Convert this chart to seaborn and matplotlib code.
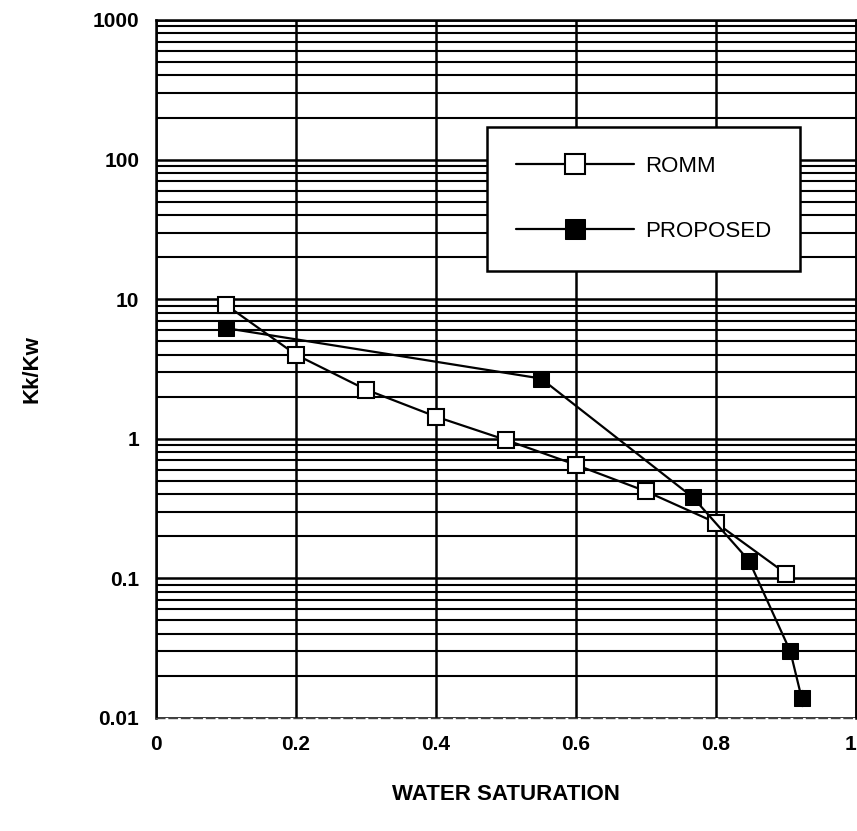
import numpy as np
import pandas as pd
import seaborn as sns
import matplotlib.pyplot as plt
from matplotlib.ticker import FixedLocator, LogLocator, NullFormatter

# values
romm_sw = [0.1, 0.2, 0.3, 0.4, 0.5, 0.6, 0.7, 0.8, 0.9]
romm_k = [9.1, 4.0, 2.25, 1.44, 0.98, 0.65, 0.42, 0.25, 0.108]
prop_sw = [0.1, 0.55, 0.767, 0.847, 0.906, 0.922, 0.922]
prop_k = [6.2, 2.7, 0.38, 0.134, 0.030, 0.016, 0.012]
xticks = [0, 0.2, 0.4, 0.6, 0.8, 1]
xticklabels = ["0", "0.2", "0.4", "0.6", "0.8", "1"]
yticks = [0.01, 0.1, 1, 10, 100, 1000]
yticklabels = ["0.01", "0.1", "1", "10", "100", "1000"]

df_romm = pd.DataFrame({"sw": romm_sw, "k": romm_k})
df_prop = pd.DataFrame({"sw": prop_sw, "k": prop_k})

sns.set_style("white")
plt.rcParams['font.family'] = ['Liberation Sans', 'DejaVu Sans']
plt.rcParams['text.color'] = 'black'
plt.rcParams['axes.labelcolor'] = 'black'
plt.rcParams['xtick.color'] = 'black'
plt.rcParams['ytick.color'] = 'black'

fig = plt.figure(figsize=(8.57, 8.31), dpi=100)
ax = fig.add_axes([0.182, 0.136, 0.817, 0.840])

sns.lineplot(data=df_romm, x="sw", y="k", ax=ax, color="black", lw=1.6,
             marker="s", markersize=11.5, markerfacecolor="white",
             markeredgecolor="black", markeredgewidth=1.5, label="ROMM", sort=False)
sns.lineplot(data=df_prop, x="sw", y="k", ax=ax, color="black", lw=1.6,
             marker="s", markersize=11, markerfacecolor="black",
             markeredgecolor="black", label="PROPOSED", sort=False)

ax.set_yscale("log")
ax.set_xlim(0, 1)
ax.set_ylim(0.01, 1000)
ax.xaxis.set_major_locator(FixedLocator(xticks))
ax.set_xticklabels(xticklabels)
ax.yaxis.set_major_locator(FixedLocator(yticks))
ax.set_yticklabels(yticklabels)
ax.yaxis.set_minor_locator(LogLocator(base=10, subs=np.arange(2, 10)))
ax.yaxis.set_minor_formatter(NullFormatter())

ax.grid(True, which="major", axis="both", color="black", lw=1.8)
ax.grid(True, which="minor", axis="y", color="black", lw=1.5)
ax.set_axisbelow(True)

for s in ["left", "top", "right"]:
    ax.spines[s].set_color("black")
    ax.spines[s].set_linewidth(1.8)
ax.spines["bottom"].set_color("#444444")
ax.spines["bottom"].set_linewidth(1.0)
ax.spines["bottom"].set_linestyle((0, (6, 3)))

ax.tick_params(axis="both", which="major", length=0, labelsize=15, pad=12)
ax.tick_params(axis="both", which="minor", length=0)
for lab in ax.get_xticklabels() + ax.get_yticklabels():
    lab.set_fontweight("bold")
ax.get_xticklabels()[-1].set_horizontalalignment("right")

ax.set_xlabel("WATER SATURATION", fontsize=16, fontweight="bold", labelpad=22)
ax.set_ylabel("Kk/Kw", fontsize=16, fontweight="bold", labelpad=36)

leg = ax.legend(loc="upper left", bbox_to_anchor=(0.473, 0.847), frameon=True,
                fancybox=False, edgecolor="black", fontsize=16, handlelength=5.3,
                borderpad=1.3, labelspacing=2.0, handletextpad=0.5,
                markerscale=1.3, borderaxespad=0)
leg.get_frame().set_linewidth(1.8)
leg.get_frame().set_alpha(1)

fig.savefig("out.png", dpi=100, facecolor="white")
